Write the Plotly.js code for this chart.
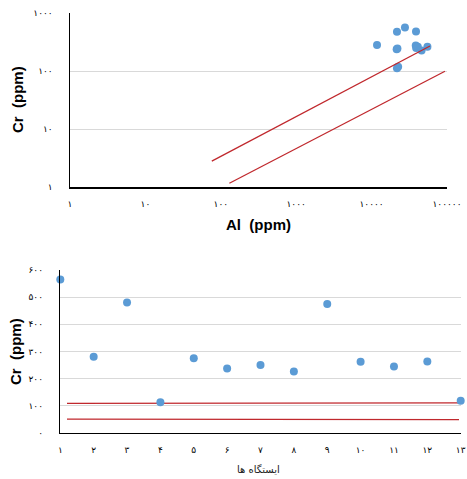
<!DOCTYPE html>
<html><head><meta charset="utf-8">
<script src="https://cdn.plot.ly/plotly-3.0.1.min.js"></script>
<style>html,body{margin:0;padding:0;background:#fff}#c{width:467px;height:479px}</style>
</head><body><div id="c"></div>
<script>
// Station data
var stations = [1,2,3,4,5,6,7,8,9,10,11,12,13];
var stationLabels = ['۱','۲','۳','۴','۵','۶','۷','۸','۹','۱۰','۱۱','۱۲','۱۳'];
var crValues = [565,280,480,112,275,237,250,226,475,262,244,263,118];
var alValues = [27700,11800,38800,21700,38500,21500,39000,46000,21700,41000,22000,55000,22500];
// Reference lines (top, log-log)
var refLine1Al = [76, 59500];
var refLine1Cr = [2.8, 270];
var refLine2Al = [130, 94000];
var refLine2Cr = [1.16, 99];
// Reference lines (bottom)
var refLowX1 = [1.2, 13];
var refLowY1 = [108, 110];
var refLowX2 = [1.2, 12.95];
var refLowY2 = [50, 48];
// Tick labels
var logTickVals = [1,10,100,1000,10000,100000];
var logTickText = ['۱','۱۰','۱۰۰','۱۰۰۰','۱۰۰۰۰','۱۰۰۰۰۰'];
var crLogTickVals = [1,10,100,1000];
var crLogTickText = ['۱','۱۰','۱۰۰','۱۰۰۰'];
var crTickVals = [0,100,200,300,400,500,600];
var crTickText = ['۰','۱۰۰','۲۰۰','۳۰۰','۴۰۰','۵۰۰','۶۰۰'];

var W=467,H=479;
var blue='#5B9BD5', red='#C0282D';
var tickFont={family:'DejaVu Sans',size:9,color:'#000'};

var traces=[
 {x:alValues,y:crValues,type:'scatter',mode:'markers',marker:{color:blue,size:8},xaxis:'x',yaxis:'y',cliponaxis:false},
 {x:refLine1Al,y:refLine1Cr,type:'scatter',mode:'lines',line:{color:red,width:1.3},xaxis:'x',yaxis:'y'},
 {x:refLine2Al,y:refLine2Cr,type:'scatter',mode:'lines',line:{color:red,width:1.3},xaxis:'x',yaxis:'y'},
 {x:refLowX1,y:refLowY1,type:'scatter',mode:'lines',line:{color:red,width:1.3},xaxis:'x2',yaxis:'y2'},
 {x:refLowX2,y:refLowY2,type:'scatter',mode:'lines',line:{color:red,width:1.3},xaxis:'x2',yaxis:'y2'},
 {x:stations,y:crValues,type:'scatter',mode:'markers',marker:{color:blue,size:8},xaxis:'x2',yaxis:'y2',cliponaxis:false}
];

var layout={
 width:W,height:H,margin:{l:0,r:0,t:0,b:0},showlegend:false,
 paper_bgcolor:'#fff',plot_bgcolor:'#fff',
 xaxis:{type:'log',range:[0,5],domain:[70/W,447/W],anchor:'y',showgrid:false,zeroline:false,
   showline:true,linecolor:'#000',linewidth:1.5,tickvals:logTickVals,ticktext:logTickText,
   tickfont:tickFont,ticks:'',ticklabelstandoff:8},
 yaxis:{type:'log',range:[0,3],domain:[(H-187)/H,(H-13)/H],anchor:'x',showgrid:true,gridcolor:'#d9d9d9',gridwidth:1,
   zeroline:false,showline:true,linecolor:'#000',linewidth:1.5,tickvals:crLogTickVals,ticktext:crLogTickText,
   tickfont:tickFont,ticks:'',ticklabelstandoff:14},
 xaxis2:{range:[1,13],domain:[60.3/W,460.7/W],anchor:'y2',showgrid:false,zeroline:false,
   showline:true,linecolor:'#000',linewidth:1.5,tickvals:stations,ticktext:stationLabels,
   tickfont:tickFont,ticks:'',ticklabelstandoff:8},
 yaxis2:{range:[0,600],domain:[(H-432.7)/H,(H-270)/H],anchor:'x2',showgrid:true,gridcolor:'#d9d9d9',gridwidth:1,
   zeroline:false,showline:true,linecolor:'#000',linewidth:1.5,tickvals:crTickVals,ticktext:crTickText,
   tickfont:tickFont,ticks:'',ticklabelstandoff:14},
 annotations:[
  {text:'<b>Al  (ppm)</b>',xref:'paper',yref:'paper',x:258/W,y:(H-224)/H,showarrow:false,xanchor:'center',yanchor:'middle',font:{family:'Liberation Sans',size:15,color:'#000'}},
  {text:'<b>Cr  (ppm)</b>',xref:'paper',yref:'paper',x:17/W,y:(H-100)/H,showarrow:false,textangle:-90,xanchor:'center',yanchor:'middle',font:{family:'Liberation Sans',size:15,color:'#000'}},
  {text:'<b>Cr  (ppm)</b>',xref:'paper',yref:'paper',x:15/W,y:(H-352)/H,showarrow:false,textangle:-90,xanchor:'center',yanchor:'middle',font:{family:'Liberation Sans',size:15,color:'#000'}},
  {text:'ایستگاه ها',xref:'paper',yref:'paper',x:258/W,y:(H-469)/H,showarrow:false,xanchor:'center',yanchor:'middle',font:{family:'DejaVu Sans',size:10,color:'#222'}}
 ]
};
Plotly.newPlot('c',traces,layout,{displayModeBar:false,staticPlot:true});
</script></body></html>
